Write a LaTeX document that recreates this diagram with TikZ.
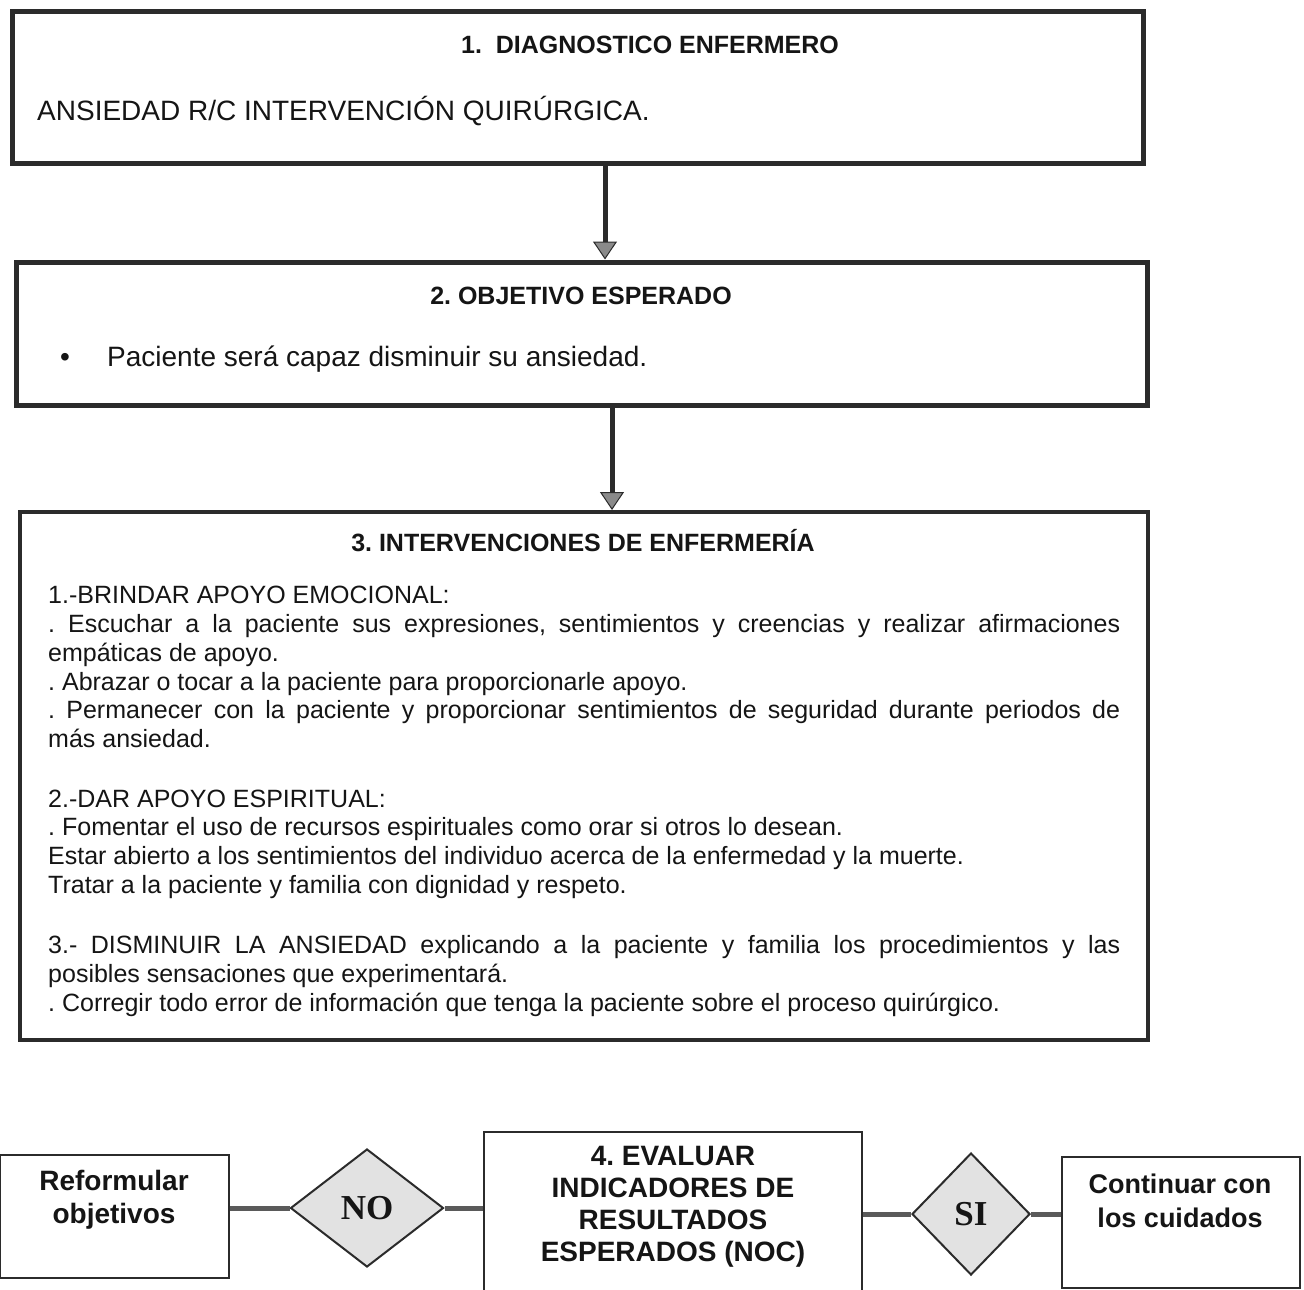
\documentclass[tikz,border=0pt]{standalone}
\usepackage{fontspec}
\setmainfont{Liberation Sans}
\newfontfamily\serifbold{Liberation Serif}
\usetikzlibrary{shapes.geometric,arrows.meta}
\definecolor{ink}{HTML}{151515}
\definecolor{framec}{HTML}{2B2B2B}
\definecolor{tipfill}{HTML}{8A8A8A}
\definecolor{dfill}{HTML}{E2E2E2}
\definecolor{linkc}{HTML}{5A5A5A}
\frenchspacing
\begin{document}
\frenchspacing
\begin{tikzpicture}[x=1pt,y=-1pt,
  bigbox/.style={draw=framec,line width=#1,inner sep=0pt},
  smallbox/.style={draw=framec,line width=2.5pt,inner sep=0pt,fill=white},
  dia/.style={diamond,draw=framec,line width=2pt,fill=dfill,inner sep=0pt,
    text=ink,font=\serifbold\bfseries\fontsize{35}{35}\selectfont},
  ttl/.style={text=ink,inner sep=0pt,font=\bfseries\fontsize{25}{30}\selectfont},
  bodytxt/.style={text=ink,inner sep=0pt,font=\fontsize{28}{33}\selectfont},
  ln/.style={text=ink,inner sep=0pt,anchor=base west,font=\fontsize{25}{29}\selectfont},
  btxt/.style={text=ink,inner sep=0pt,align=center,font=\bfseries\fontsize{28}{33}\selectfont},
  downarrow/.style={draw=framec,line width=5pt,
    -{Triangle[width=24pt,length=18pt,line width=1pt,fill=tipfill]}},
  link/.style={draw=linkc,line width=5pt}
]
\clip (0,0) rectangle (1304,1290);
\fill[white] (0,0) rectangle (1304,1290);

% box 1
\node[bigbox=5pt, minimum width=1131pt, minimum height=151pt] (b1) at (577.5,87.5) {};
\node[ttl, anchor=base] (t1) at (650,54) {1.\ \ DIAGNOSTICO ENFERMERO};
\node[bodytxt, anchor=base west] (d1) at (37,120) {ANSIEDAD R/C INTERVENCIÓN QUIRÚRGICA.};

% box 2
\node[bigbox=5pt, minimum width=1131pt, minimum height=143pt] (b2) at (581.5,333.5) {};
\node[ttl, anchor=base] (t2) at (581,304) {2. OBJETIVO ESPERADO};
\node[bodytxt, anchor=base] (bul) at (65,366) {•};
\node[bodytxt, anchor=base west] (o1) at (107,366) {Paciente será capaz disminuir su ansiedad.};

% box 3
\node[bigbox=4pt, minimum width=1128pt, minimum height=528pt] (b3) at (584,776) {};
\node[ttl, anchor=base] (t3) at (583,551) {3. INTERVENCIONES DE ENFERMERÍA};
\node[ln] (l1) at (48,603) {1.-BRINDAR APOYO EMOCIONAL:};
\node[ln] (l2) at (48,632) {\makebox[1072pt][s]{. Escuchar a la paciente sus expresiones, sentimientos y creencias y realizar afirmaciones}};
\node[ln] (l3) at (48,661) {empáticas de apoyo.};
\node[ln] (l4) at (48,690) {. Abrazar o tocar a la paciente para proporcionarle apoyo.};
\node[ln] (l5) at (48,718) {\makebox[1072pt][s]{. Permanecer con la paciente y proporcionar sentimientos de seguridad durante periodos de}};
\node[ln] (l6) at (48,747) {más ansiedad.};
\node[ln] (l7) at (48,807) {2.-DAR APOYO ESPIRITUAL:};
\node[ln] (l8) at (48,835) {. Fomentar el uso de recursos espirituales como orar si otros lo desean.};
\node[ln] (l9) at (48,864) {Estar abierto a los sentimientos del individuo acerca de la enfermedad y la muerte.};
\node[ln] (l10) at (48,893) {Tratar a la paciente y familia con dignidad y respeto.};
\node[ln] (l11) at (48,953) {\makebox[1072pt][s]{3.- DISMINUIR LA ANSIEDAD explicando a la paciente y familia los procedimientos y las}};
\node[ln] (l12) at (48,982) {posibles sensaciones que experimentará.};
\node[ln] (l13) at (48,1011) {. Corregir todo error de información que tenga la paciente sobre el proceso quirúrgico.};

% arrows
\draw[downarrow] ([xshift=27.5pt]b1.south) -- ([xshift=23.5pt]b2.north);
\draw[downarrow] ([xshift=30.5pt]b2.south) -- ([xshift=28pt]b3.north);

% bottom row
\node[smallbox, minimum width=229pt, minimum height=123pt] (ref) at (114.5,1216.5) {};
\node[btxt] (ref-t) at (114,1200) {Reformular\\objetivos};
\node[dia, minimum width=153pt, minimum height=118pt] (no) at (367,1208) {NO};
\node[smallbox, minimum width=378pt, minimum height=170pt] (b4) at (673,1217) {};
\node[btxt] (b4-t) at (673,1207) {4. EVALUAR\\[-1pt]INDICADORES DE\\[-1pt]RESULTADOS\\[-1pt]ESPERADOS (NOC)};
\node[dia, minimum width=118pt, minimum height=122pt] (si) at (971,1214) {SI};
\node[smallbox, minimum width=238pt, minimum height=131pt] (cont) at (1181,1222.5) {};
\node[btxt, font=\bfseries\fontsize{27}{34}\selectfont] (cont-t) at (1180,1201) {Continuar con\\los cuidados};

\draw[link] (ref.east |- no.west) -- (no.west);
\draw[link] (no.east) -- (no.east -| b4.west);
\draw[link] (b4.east |- si.west) -- (si.west);
\draw[link] (si.east) -- (si.east -| cont.west);
\end{tikzpicture}
\end{document}
